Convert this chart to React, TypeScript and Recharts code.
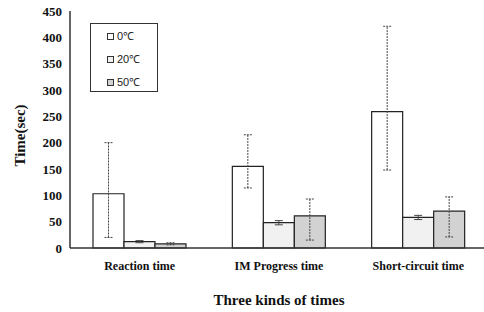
import React from 'react';
import { BarChart, Bar, XAxis, YAxis, ErrorBar } from 'recharts';

const CATEGORIES = ['Reaction time', 'IM Progress time', 'Short-circuit time'];
const SERIES = ['0℃', '20℃', '50℃'];
const VALUES_0 = [103, 155, 259];
const VALUES_20 = [12, 48, 58];
const VALUES_50 = [8, 61, 70];
// [below, above] relative to each mean
const ERR_0: [number, number][] = [[83, 97], [41, 60], [111, 162]];
const ERR_20: [number, number][] = [[2, 2], [4, 4], [4, 4]];
const ERR_50: [number, number][] = [[2, 2], [46, 32], [49, 27]];
const Y_TICKS = [0, 50, 100, 150, 200, 250, 300, 350, 400, 450];

const FILLS = ['#ffffff', '#f1f1f1', '#d2d2d2'];

const data = CATEGORIES.map((name, i) => ({
  name,
  s0: VALUES_0[i],
  s20: VALUES_20[i],
  s50: VALUES_50[i],
  e0: ERR_0[i],
  e20: ERR_20[i],
  e50: ERR_50[i],
}));

const serif = 'Liberation Serif, Times New Roman, serif';

const LegendBox = () => (
  <div
    style={{
      position: 'absolute',
      left: 90,
      top: 23,
      width: 66,
      height: 67,
      border: '1px solid #333',
      background: '#fff',
      fontFamily: 'Liberation Sans, Arial, sans-serif',
      fontSize: 11,
      color: '#222',
    }}
  >
    {SERIES.map((s, i) => (
      <div key={s} style={{ position: 'absolute', left: 16, top: 6 + i * 23, display: 'flex', alignItems: 'center', lineHeight: '12px' }}>
        <span style={{ display: 'inline-block', width: 5, height: 5, border: '1px solid #333', background: FILLS[i], marginRight: 3 }} />
        <span>{s}</span>
      </div>
    ))}
  </div>
);

const YTick = ({ x, y, payload }: any) => (
  <text x={x} y={y} textAnchor="end" dominantBaseline="central" fontFamily={serif} fontWeight="bold" fontSize={13} fill="#111">
    {payload.value}
  </text>
);

const XTick = ({ x, y, payload }: any) => (
  <text x={x} y={y + 14} textAnchor="middle" fontFamily={serif} fontWeight="bold" fontSize={12} fill="#111">
    {payload.value}
  </text>
);

const YLabel = ({ viewBox }: any) => {
  const cy = viewBox.y + viewBox.height / 2 + 6;
  return (
    <text
      x={20}
      y={cy}
      transform={`rotate(-90 20 ${cy})`}
      textAnchor="middle"
      dominantBaseline="central"
      style={{ fontFamily: serif, fontWeight: 'bold', fontSize: 15, fill: '#111' }}
    >
      Time(sec)
    </text>
  );
};

export default function App() {
  return (
    <div style={{ position: 'absolute', left: 0, top: 0, width: 484, height: 312, overflow: 'hidden', background: '#fff', fontFamily: serif }}>
      <BarChart
        width={500}
        height={312}
        data={data}
        margin={{ top: 11, right: 12, bottom: 0, left: 10 }}
        barCategoryGap={23}
        barGap={0}
      >
        <XAxis
          dataKey="name"
          height={64}
          tickLine={false}
          stroke="#333"
          strokeWidth={1.5}
          tick={<XTick />}
          label={{
            value: 'Three kinds of times',
            position: 'insideBottom',
            offset: 7,
            style: { fontFamily: serif, fontWeight: 'bold', fontSize: 15, fill: '#111' },
          }}
        />
        <YAxis
          width={60}
          domain={[0, 450]}
          ticks={Y_TICKS}
          interval={0}
          tickLine={false}
          stroke="#333"
          strokeWidth={1.5}
          tick={<YTick />}
          label={<YLabel />}
        />
        <Bar dataKey="s0" name={SERIES[0]} fill={FILLS[0]} stroke="#222" strokeWidth={1.2} isAnimationActive={false}>
          <ErrorBar dataKey="e0" width={4} stroke="#444" strokeWidth={1} strokeDasharray="2 1" />
        </Bar>
        <Bar dataKey="s20" name={SERIES[1]} fill={FILLS[1]} stroke="#222" strokeWidth={1.2} isAnimationActive={false}>
          <ErrorBar dataKey="e20" width={4} stroke="#444" strokeWidth={1} />
        </Bar>
        <Bar dataKey="s50" name={SERIES[2]} fill={FILLS[2]} stroke="#222" strokeWidth={1.2} isAnimationActive={false}>
          <ErrorBar dataKey="e50" width={4} stroke="#444" strokeWidth={1} strokeDasharray="2 1" />
        </Bar>
      </BarChart>
      <LegendBox />
    </div>
  );
}
